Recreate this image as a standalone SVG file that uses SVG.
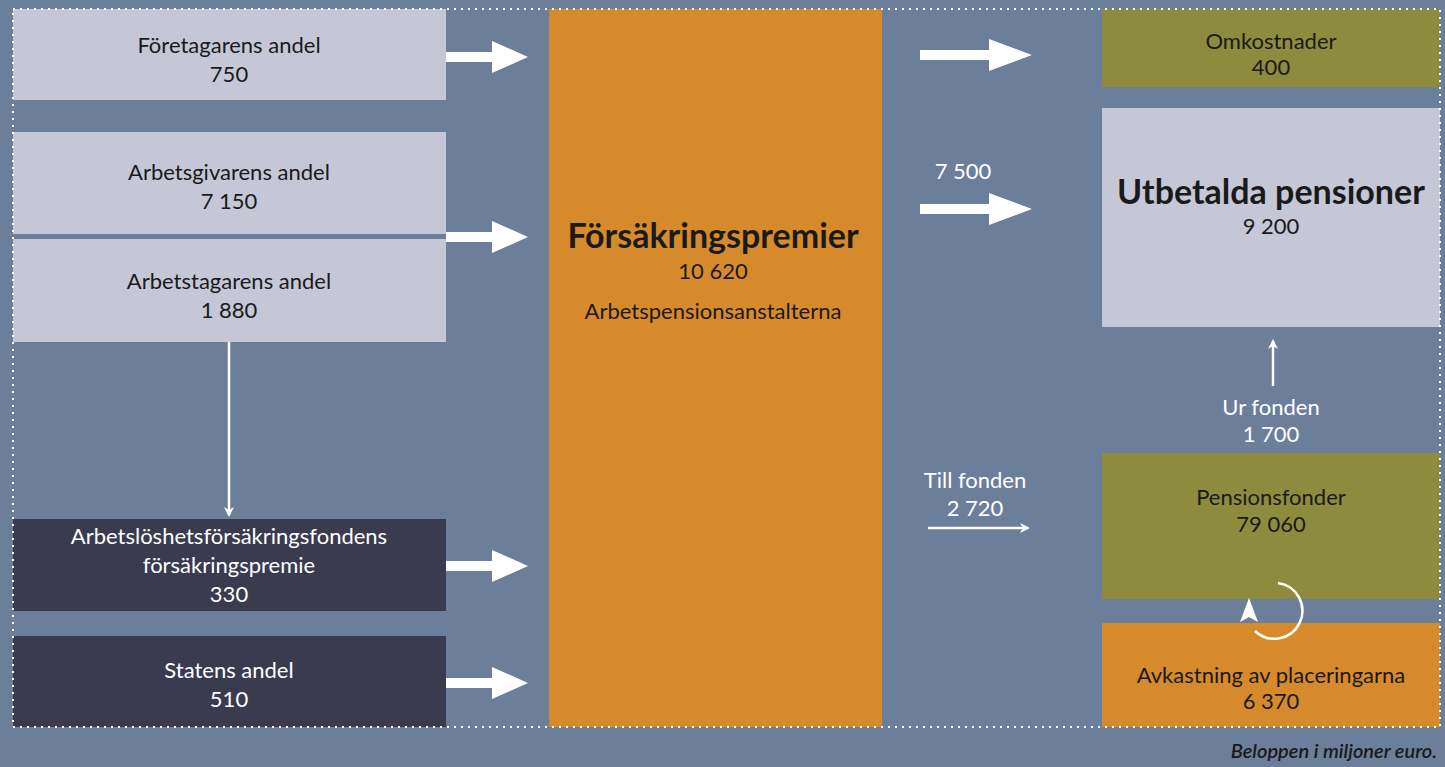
<svg xmlns="http://www.w3.org/2000/svg" width="1445" height="767" viewBox="0 0 1445 767">
<defs>
<style>
text{font-family:"Lato","Open Sans","Liberation Sans",sans-serif;font-size:22px;text-anchor:middle;fill:#1a1a1a}
.w{fill:#ffffff}
.b{font-weight:bold}
.light{fill:#c6c7d6}
.dark{fill:#3a3b4f}
.olive{fill:#8d8c3e}
.orange{fill:#d68a2c}
.fat{fill:#ffffff}
.thin{stroke:#ffffff;stroke-width:2.5;fill:none}
</style>
<marker id="ah" markerWidth="10" markerHeight="10" refX="8" refY="5" orient="auto" markerUnits="userSpaceOnUse" viewBox="0 0 10 10">
<path d="M0,0 L10,5 L0,10 L3,5 Z" fill="#ffffff"/>
</marker>
</defs>
<rect x="0" y="0" width="1445" height="767" fill="#6b7e9a"/>

<g id="n-foretagarens"><rect class="light" x="13" y="9" width="433" height="91"/><text x="229" y="53">Företagarens andel</text><text x="229" y="82">750</text></g>
<g id="n-arbetsgivarens"><rect class="light" x="13" y="132" width="433" height="102"/><text x="229" y="180">Arbetsgivarens andel</text><text x="229" y="209">7 150</text></g>
<g id="n-arbetstagarens"><rect class="light" x="13" y="239" width="433" height="103"/><text x="229" y="289">Arbetstagarens andel</text><text x="229" y="318">1 880</text></g>
<g id="n-arbetsloshets"><rect class="dark" x="13" y="519" width="433" height="92"/><text class="w" x="229" y="544">Arbetslöshetsförsäkringsfondens</text><text class="w" x="229" y="573">försäkringspremie</text><text class="w" x="229" y="602">330</text></g>
<g id="n-statens"><rect class="dark" x="13" y="636" width="433" height="91"/><text class="w" x="229" y="678">Statens andel</text><text class="w" x="229" y="707">510</text></g>

<g id="n-premier"><rect class="orange" x="549" y="9" width="333" height="718"/><text class="b" x="713" y="248" style="font-size:34px">Försäkringspremier</text><text x="713" y="279">10 620</text><text x="713" y="319">Arbetspensionsanstalterna</text></g>

<g id="n-omkostnader"><rect class="olive" x="1102" y="9" width="338" height="78"/><text x="1271" y="49">Omkostnader</text><text x="1271" y="75">400</text></g>
<g id="n-utbetalda"><rect class="light" x="1102" y="108" width="338" height="219"/><text class="b" x="1271" y="204" style="font-size:34px">Utbetalda pensioner</text><text x="1271" y="234">9 200</text></g>
<g id="n-pensionsfonder"><rect class="olive" x="1102" y="453" width="338" height="146"/><text x="1271" y="505">Pensionsfonder</text><text x="1271" y="532">79 060</text></g>
<g id="n-avkastning"><rect class="orange" x="1102" y="623" width="338" height="104"/><text x="1271" y="683">Avkastning av placeringarna</text><text x="1271" y="709">6 370</text></g>

<g id="connectors">
<g class="fat">
<path d="M446,52 H492 V41 L528,57 L492,73 V62 H446 Z"/>
<path d="M446,232 H492 V221 L528,237 L492,253 V242 H446 Z"/>
<path d="M446,561 H492 V550 L528,566 L492,582 V571 H446 Z"/>
<path d="M446,678 H492 V667 L528,683 L492,699 V688 H446 Z"/>
<path d="M920,50 H989 V39 L1032,55 L989,71 V60 H920 Z"/>
<path d="M920,204 H989 V193 L1032,209 L989,225 V214 H920 Z"/>
</g>
<line x1="13" y1="236.5" x2="446" y2="236.5" stroke="#6b7e9a" stroke-width="5"/>
<line class="thin" x1="229" y1="342" x2="229" y2="515" marker-end="url(#ah)"/>
<line class="thin" x1="928" y1="528" x2="1028" y2="528" marker-end="url(#ah)"/>
<line class="thin" x1="1273" y1="386" x2="1273" y2="341" marker-end="url(#ah)"/>
<path class="thin" d="M1278,583 A28,28 0 1 1 1255,631" stroke-width="3.5"/>
<path d="M1249,598 L1258,622 L1249,617 L1240,622 Z" fill="#ffffff"/>
<text class="w" x="963" y="179">7 500</text>
<text class="w" x="975" y="488">Till fonden</text>
<text class="w" x="975" y="516">2 720</text>
<text class="w" x="1271" y="415">Ur fonden</text>
<text class="w" x="1271" y="442">1 700</text>
</g>

<rect x="13" y="9" width="1427" height="718" fill="none" stroke="#ffffff" stroke-width="2" stroke-dasharray="2 5"/>
<text x="1437" y="758" style="font-style:italic;font-weight:600;font-size:20px;text-anchor:end">Beloppen i miljoner euro.</text>
</svg>
